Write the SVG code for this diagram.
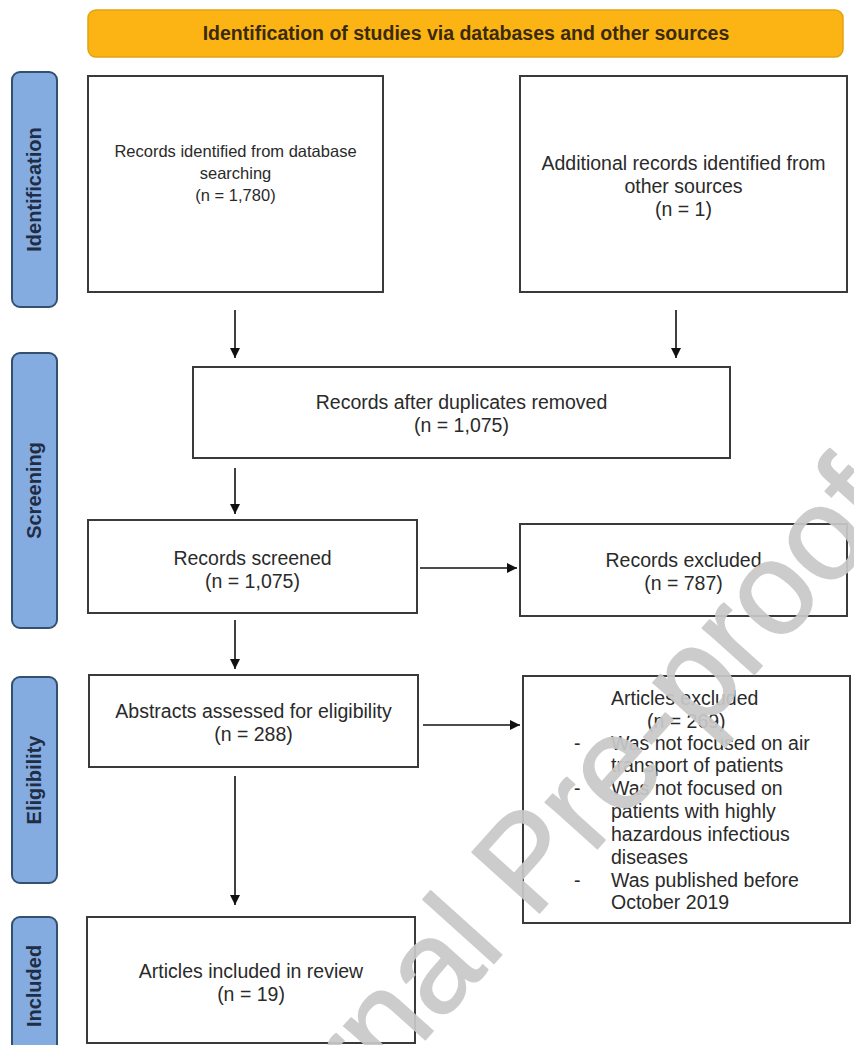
<svg xmlns="http://www.w3.org/2000/svg" width="854" height="1045" viewBox="0 0 854 1045">
<style>
.box{fill:#fff;stroke:#3a3a3a;stroke-width:2}
.tab{fill:#84ace0;stroke:#34506f;stroke-width:2}
.t{font-family:"Liberation Sans",Arial,sans-serif;font-size:19.5px;fill:#2a2a2a;text-anchor:middle}
.ts{font-size:16.5px}
.tl{font-family:"Liberation Sans",Arial,sans-serif;font-size:19.5px;fill:#2a2a2a}
.tab-t{font-family:"Liberation Sans",Arial,sans-serif;font-size:20px;font-weight:bold;fill:#1f2d45;text-anchor:middle}
.hd{font-family:"Liberation Sans",Arial,sans-serif;font-size:19.5px;font-weight:bold;fill:#3a2a0c;text-anchor:middle}
.ln{stroke:#111;stroke-width:1.6;fill:none}
.wm{font-family:"Liberation Sans",Arial,sans-serif;font-size:132px;fill:#c9c9c9;stroke:#c9c9c9;stroke-width:1.5;stroke-linejoin:round;opacity:0.93}
</style>
<defs>
<marker id="ah" viewBox="0 0 10 10" refX="10" refY="5" markerWidth="6.5" markerHeight="6.5" markerUnits="strokeWidth" orient="auto">
<path d="M0,0 L10,5 L0,10 z" fill="#111"/>
</marker>
</defs>
<rect width="854" height="1045" fill="#fff"/>

<g id="header">
<rect x="88" y="10" width="755" height="47" rx="8" fill="#fbb413" stroke="#e3a210" stroke-width="1.5"/>
<text class="hd" x="466" y="40">Identification of studies via databases and other sources</text>
</g>

<g id="tab-identification">
<rect class="tab" x="12" y="72" width="45" height="235" rx="8"/>
<text class="tab-t" transform="translate(41,189.5) rotate(-90)">Identification</text>
</g>
<g id="tab-screening">
<rect class="tab" x="12" y="353" width="45" height="275" rx="8"/>
<text class="tab-t" transform="translate(41,490.5) rotate(-90)">Screening</text>
</g>
<g id="tab-eligibility">
<rect class="tab" x="12" y="677" width="45" height="206" rx="8"/>
<text class="tab-t" transform="translate(41,780) rotate(-90)">Eligibility</text>
</g>
<g id="tab-included">
<rect class="tab" x="12" y="917" width="45" height="140" rx="8"/>
<text class="tab-t" transform="translate(41,986) rotate(-90)">Included</text>
</g>

<g id="box-db">
<rect class="box" x="88" y="76" width="295" height="216"/>
<text class="t ts" x="235.5" y="157">Records identified from database</text>
<text class="t ts" x="235.5" y="179">searching</text>
<text class="t ts" x="235.5" y="201">(n = 1,780)</text>
</g>

<g id="box-other">
<rect class="box" x="520" y="76" width="327" height="216"/>
<text class="t" x="683.5" y="170">Additional records identified from</text>
<text class="t" x="683.5" y="193">other sources</text>
<text class="t" x="683.5" y="216">(n = 1)</text>
</g>

<g id="box-dup">
<rect class="box" x="193" y="367" width="537" height="91"/>
<text class="t" x="461.5" y="409">Records after duplicates removed</text>
<text class="t" x="461.5" y="432">(n = 1,075)</text>
</g>

<g id="box-screened">
<rect class="box" x="88" y="520" width="329" height="93"/>
<text class="t" x="252.5" y="565">Records screened</text>
<text class="t" x="252.5" y="588">(n = 1,075)</text>
</g>

<g id="box-rec-excluded">
<rect class="box" x="520" y="524" width="327" height="92"/>
<text class="t" x="683.5" y="567">Records excluded</text>
<text class="t" x="683.5" y="590">(n = 787)</text>
</g>

<g id="box-abstracts">
<rect class="box" x="89" y="675" width="329" height="92"/>
<text class="t" x="253.5" y="718">Abstracts assessed for eligibility</text>
<text class="t" x="253.5" y="741">(n = 288)</text>
</g>

<g id="box-art-excluded">
<rect class="box" x="523" y="676" width="327" height="247"/>
<text class="tl" x="611" y="705">Articles excluded</text>
<text class="tl" x="647" y="728">(n = 269)</text>
<text class="tl" x="574" y="750">-</text>
<text class="tl" x="611" y="750">Was not focused on air</text>
<text class="tl" x="611" y="772">transport of patients</text>
<text class="tl" x="574" y="795">-</text>
<text class="tl" x="611" y="795">Was not focused on</text>
<text class="tl" x="611" y="818">patients with highly</text>
<text class="tl" x="611" y="841">hazardous infectious</text>
<text class="tl" x="611" y="864">diseases</text>
<text class="tl" x="574" y="887">-</text>
<text class="tl" x="611" y="887">Was published before</text>
<text class="tl" x="611" y="909">October 2019</text>
</g>

<g id="box-included">
<rect class="box" x="87" y="917" width="328" height="126"/>
<text class="t" x="251" y="978">Articles included in review</text>
<text class="t" x="251" y="1001">(n = 19)</text>
</g>

<g id="connectors">
<line class="ln" x1="235" y1="310" x2="235" y2="358" marker-end="url(#ah)"/>
<line class="ln" x1="676" y1="310" x2="676" y2="358" marker-end="url(#ah)"/>
<line class="ln" x1="235" y1="468" x2="235" y2="514" marker-end="url(#ah)"/>
<line class="ln" x1="420" y1="568" x2="517" y2="568" marker-end="url(#ah)"/>
<line class="ln" x1="235" y1="620" x2="235" y2="669" marker-end="url(#ah)"/>
<line class="ln" x1="423" y1="725" x2="520" y2="725" marker-end="url(#ah)"/>
<line class="ln" x1="235" y1="776" x2="235" y2="905" marker-end="url(#ah)"/>
</g>

<g id="watermark">
<text class="wm" transform="translate(218,1270) rotate(-48)">Journal Pre-proof</text>
</g>
</svg>
